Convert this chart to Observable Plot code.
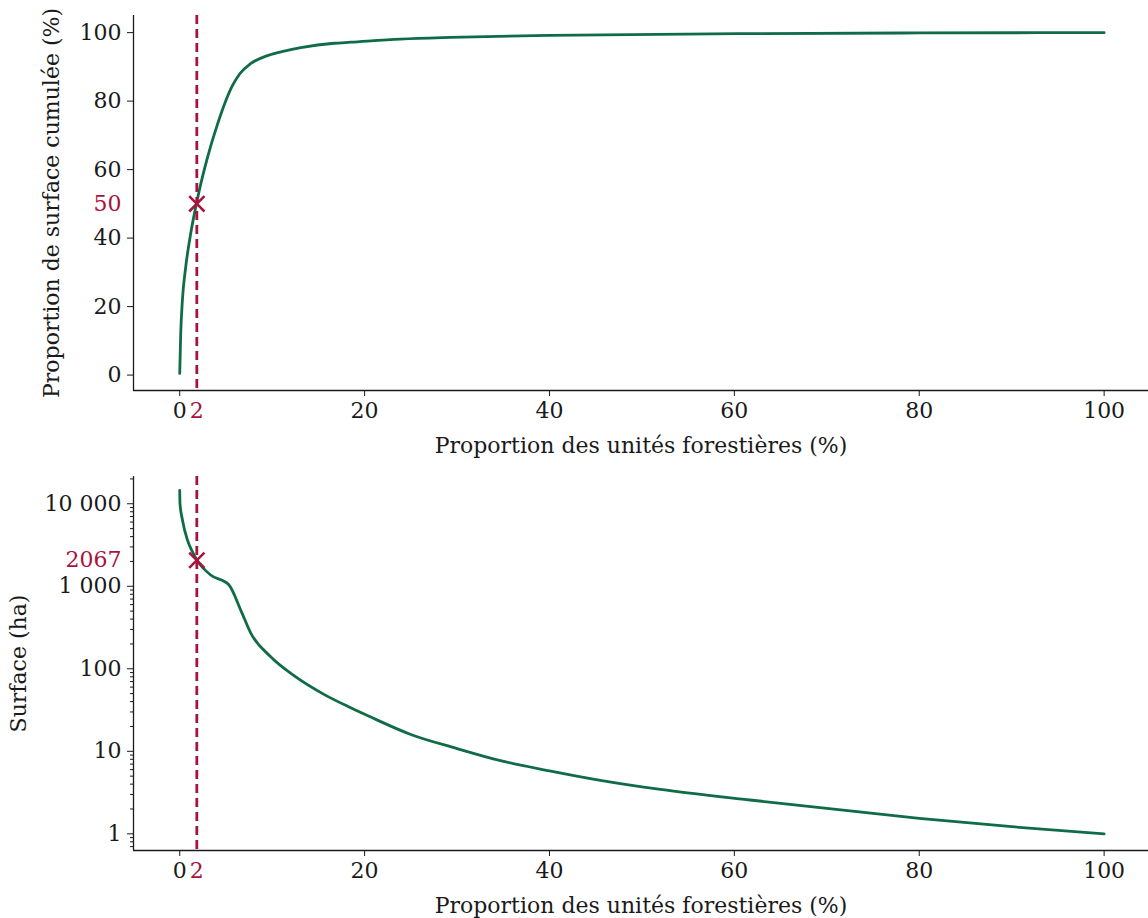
<!DOCTYPE html>
<html><head><meta charset="utf-8">
<script src="https://cdn.jsdelivr.net/npm/d3@7"></script>
<script src="https://cdn.jsdelivr.net/npm/@observablehq/plot@0.6"></script>
<style>
body{margin:0;background:#fff;}
#chart svg{display:block;}
</style>
</head><body><div id="chart"></div>
<script>
// ---- Data ----
const propUnites = [0, 0.11, 0.29, 0.65, 1.19, 1.73, 2.09, 3.0, 4.08, 5.7, 6.5, 7.7, 9.5, 11.3, 13.1, 16.7, 18.5, 23.9, 29.3, 40, 61.7, 80, 100];
const surfCumulee = [0.5, 12.2, 21.9, 31.6, 41.4, 49, 53.6, 63.5, 73.2, 84.5, 88.0, 91, 93.3, 94.6, 95.6, 96.9, 97.2, 98.1, 98.6, 99.2, 99.7, 99.9, 100];

const propUnitesLog = [0, 0.03, 0.29, 0.83, 1.37, 1.9, 3.35, 5.33, 6.6, 7.7, 9.84, 12.4, 15.6, 18.5, 20.6, 25, 30, 34.7, 40, 45.5, 52, 61.7, 70, 80, 90, 100];
const surfaceHa = [14500, 10000, 6400, 3650, 2630, 2047, 1370, 1037, 515, 269, 140, 82, 49, 33.7, 26.2, 16.0, 10.8, 7.7, 5.8, 4.45, 3.45, 2.57, 2.04, 1.54, 1.22, 1.0];

const xTicks = [0, 20, 40, 60, 80, 100];
const yTicksTop = [0, 20, 40, 60, 80, 100];
const yTicksLog = [1, 10, 100, 1000, 10000];
const yTickLabelsLog = ["1", "10", "100", "1 000", "10 000"];
const yMinorLog = [0.7, 0.8, 0.9, 2, 3, 4, 5, 6, 7, 8, 9, 20, 30, 40, 50, 60, 70, 80, 90,
  200, 300, 400, 500, 600, 700, 800, 900, 2000, 3000, 4000, 5000, 6000, 7000, 8000, 9000, 20000];

const seuilX = 1.85, seuilXLabel = "2";
const seuilCumul = 50, seuilCumulLabel = "50";
const seuilSurface = 2067, seuilSurfaceLabel = "2067";

const xLabel = "Proportion des unités forestières (%)";
const yLabelTop = "Proportion de surface cumulée (%)";
const yLabelBottom = "Surface (ha)";

// ---- Styling ----
const GREEN = "#0f6c46", RED = "#a8123d", INK = "#1a1a1a";
const xDomain = [-5, 104.8];
const yDomainTop = [-4.5, 105];
const yDomainLog = [0.628, 21400];
const style = {fontFamily: "'DejaVu Serif', serif", fontSize: "22px", color: INK, background: "white", overflow: "visible"};

const topData = propUnites.map((x, i) => ({x, y: surfCumulee[i]}));
const botData = propUnitesLog.map((x, i) => ({x, y: surfaceHa[i]}));

const topPlot = Plot.plot({
  width: 1148, height: 460,
  marginLeft: 133, marginRight: 0, marginTop: 15, marginBottom: 70,
  style,
  x: {domain: xDomain},
  y: {domain: yDomainTop},
  marks: [
    Plot.ruleX([xDomain[0]], {stroke: INK, strokeWidth: 1.3}),
    Plot.ruleY([yDomainTop[0]], {stroke: INK, strokeWidth: 1.3}),
    Plot.axisX(xTicks, {tickSize: 6, tickPadding: 6, label: xLabel, labelAnchor: "center", labelOffset: 62, labelArrow: "none"}),
    Plot.axisX([seuilX], {tickSize: 0, tickPadding: 12, tickFormat: () => seuilXLabel, color: RED, label: null}),
    Plot.axisY(yTicksTop, {tickSize: 6, tickPadding: 6, label: yLabelTop, labelAnchor: "center", labelOffset: 90, labelArrow: "none"}),
    Plot.axisY([seuilCumul], {tickSize: 0, tickPadding: 12, tickFormat: () => seuilCumulLabel, color: RED, label: null}),
    Plot.line(topData, {x: "x", y: "y", stroke: GREEN, strokeWidth: 2.8, curve: "monotone-x"}),
    Plot.ruleX([seuilX], {stroke: RED, strokeWidth: 2.8, strokeDasharray: "9,5"}),
    Plot.dot([{x: seuilX, y: seuilCumul}], {x: "x", y: "y", symbol: "times", r: 7, stroke: RED, strokeWidth: 2.5})
  ]
});

const botPlot = Plot.plot({
  width: 1148, height: 458,
  marginLeft: 133, marginRight: 0, marginTop: 16, marginBottom: 68,
  style,
  x: {domain: xDomain},
  y: {type: "log", domain: yDomainLog},
  marks: [
    Plot.ruleX([xDomain[0]], {stroke: INK, strokeWidth: 1.3}),
    Plot.ruleY([yDomainLog[0]], {stroke: INK, strokeWidth: 1.3}),
    Plot.axisX(xTicks, {tickSize: 6, tickPadding: 6, label: xLabel, labelAnchor: "center", labelOffset: 62, labelArrow: "none"}),
    Plot.axisX([seuilX], {tickSize: 0, tickPadding: 12, tickFormat: () => seuilXLabel, color: RED, label: null}),
    Plot.axisY(yTicksLog, {tickSize: 6, tickPadding: 6, tickFormat: (d) => yTickLabelsLog[yTicksLog.indexOf(d)], label: yLabelBottom, labelAnchor: "center", labelOffset: 123, labelArrow: "none"}),
    Plot.axisY(yMinorLog, {tickSize: 3, tickFormat: () => "", label: null}),
    Plot.axisY([seuilSurface], {tickSize: 0, tickPadding: 12, tickFormat: () => seuilSurfaceLabel, color: RED, label: null}),
    Plot.line(botData, {x: "x", y: "y", stroke: GREEN, strokeWidth: 2.8, curve: "monotone-x"}),
    Plot.ruleX([seuilX], {stroke: RED, strokeWidth: 2.8, strokeDasharray: "9,5"}),
    Plot.dot([{x: seuilX, y: seuilSurface}], {x: "x", y: "y", symbol: "times", r: 7, stroke: RED, strokeWidth: 2.5})
  ]
});

document.getElementById("chart").append(topPlot, botPlot);
</script>
</body></html>
